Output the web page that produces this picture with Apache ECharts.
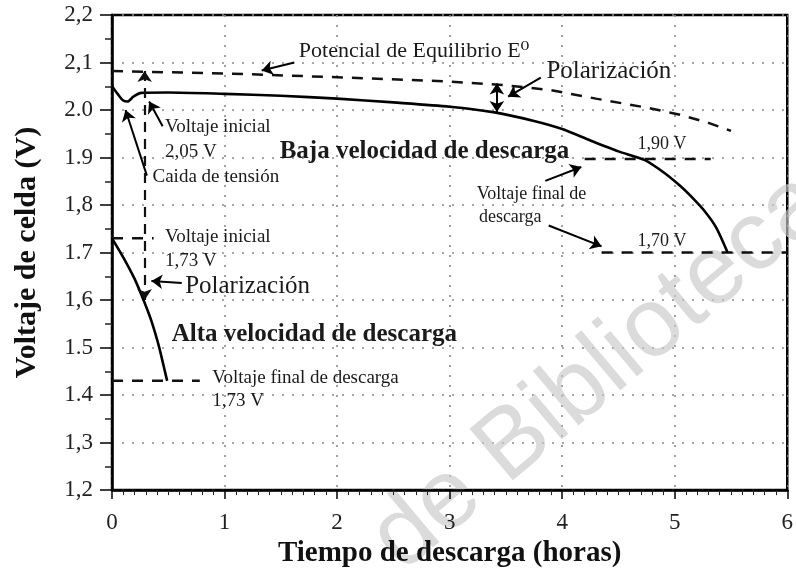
<!DOCTYPE html>
<html>
<head>
<meta charset="utf-8">
<script src="https://cdn.jsdelivr.net/npm/echarts@6/dist/echarts.min.js"></script>
<style>
  html, body { margin: 0; padding: 0; background: #fff; }
  #chart { width: 796px; height: 573px; }
</style>
</head>
<body>
<div id="chart"></div>
<script>
// tick labels as printed (mixed comma / dot in the original)
var yTickLabels = ['1,2', '1,3', '1.4', '1.5', '1,6', '1.7', '1,8', '1.9', '2.0', '2,1', '2,2'];
var xTickLabels = ['0', '1', '2', '3', '4', '5', '6'];

// equilibrium potential E0 (dashed)
var equilibrium = [[0, 2.082], [1, 2.077], [2, 2.069], [3, 2.06], [3.5, 2.052], [3.9, 2.042],
  [4.3, 2.024], [4.75, 2.005], [5.05, 1.99], [5.3, 1.973], [5.5, 1.956]];

// low discharge rate
var lowRate = [[0, 2.05], [0.05, 2.034], [0.1, 2.02], [0.14, 2.018], [0.19, 2.028], [0.26, 2.036],
  [0.5, 2.037], [1, 2.034], [1.5, 2.03], [2, 2.024], [2.5, 2.016], [3, 2.007], [3.4, 1.995],
  [3.75, 1.977], [4, 1.96], [4.25, 1.936], [4.5, 1.913], [4.73, 1.895], [4.9, 1.869],
  [5.05, 1.84], [5.15, 1.817], [5.27, 1.786], [5.37, 1.752], [5.47, 1.7]];

// high discharge rate
var highRate = [[0, 1.73], [0.1, 1.69], [0.2, 1.645], [0.28, 1.6], [0.35, 1.556],
  [0.42, 1.5], [0.46, 1.46], [0.49, 1.43]];

// dashed reference levels
var refInitialHigh = [[0, 1.73], [0.37, 1.73]];
var refFinalHigh = [[0, 1.43], [0.78, 1.43]];
var refFinal190 = [[4.2, 1.897], [5.32, 1.897]];
var refFinal170 = [[4.35, 1.7], [6, 1.7]];

// vertical dashed drop at the start
var dropLine = [[0.29, 2.082], [0.29, 1.6]];

// pointer arrows [from, to]
var pointers = [
  [[1.62, 2.1], [1.33, 2.083]],
  [[3.81, 2.068], [3.52, 2.028]],
  [[0.45, 1.966], [0.33, 2.018]],
  [[0.31, 1.862], [0.12, 2.0]],
  [[0.62, 1.636], [0.35, 1.64]],
  [[3.85, 1.851], [4.17, 1.88]],
  [[3.88, 1.757], [4.35, 1.713]]
];
// double arrow for polarization on the low rate curve
var polarArrow = [[3.42, 2.056], [3.42, 1.996]];

// annotations [x, y, text, size, bold]
var notes = [
  [1.66, 2.123, 'Potencial de Equilibrio E\u2070', 22, false],
  [3.86, 2.081, 'Polarización', 25, false],
  [0.47, 1.964, 'Voltaje inicial', 19, false],
  [0.47, 1.911, '2,05 V', 19, false],
  [0.36, 1.859, 'Caida de tensión', 19, false],
  [1.49, 1.913, 'Baja velocidad de descarga', 25, true],
  [4.67, 1.928, '1,90 V', 18, false],
  [3.24, 1.823, 'Voltaje final de', 18, false],
  [3.26, 1.775, 'descarga', 18, false],
  [4.67, 1.723, '1,70 V', 18, false],
  [0.47, 1.733, 'Voltaje inicial', 19, false],
  [0.47, 1.683, '1,73 V', 19, false],
  [0.65, 1.629, 'Polarización', 25, false],
  [0.53, 1.528, 'Alta velocidad de descarga', 25, true],
  [0.89, 1.436, 'Voltaje final de descarga', 19, false],
  [0.89, 1.388, '1,73 V', 19, false]
];

var serif = '"Liberation Serif", "DejaVu Serif", serif';

var chartDom = document.getElementById('chart');
var myChart = echarts.init(chartDom, null, { renderer: 'canvas' });

function dashedSeries(name, pts) {
  return {
    name: name,
    type: 'line',
    data: pts,
    showSymbol: false,
    silent: true,
    lineStyle: { color: '#111', width: 2.5, type: [11, 9] },
    z: 3
  };
}

var arrowLines = pointers.map(function (p) {
  return [{ coord: p[0], symbol: 'none' }, { coord: p[1], symbol: 'arrow' }];
});

var option = {
  animation: false,
  backgroundColor: '#fff',
  grid: {
    left: 112, right: 8, top: 15, bottom: 80,
    show: true, borderColor: '#000', borderWidth: 2.5
  },
  xAxis: {
    type: 'value',
    min: 0, max: 6, interval: 1,
    name: 'Tiempo de descarga (horas)',
    nameLocation: 'middle',
    nameGap: 44,
    nameTextStyle: { fontFamily: serif, fontSize: 29, fontWeight: 'bold', color: '#111' },
    axisLine: { lineStyle: { color: '#000', width: 2.5 } },
    axisTick: { length: 9, lineStyle: { color: '#000', width: 1.5 } },
    minorTick: { show: true, splitNumber: 10, length: 5, lineStyle: { color: '#222', width: 1 } },
    axisLabel: {
      margin: 21, fontFamily: serif, fontSize: 23, color: '#222',
      formatter: function (v) { return xTickLabels[Math.round(v)]; }
    },
    splitLine: { show: true, lineStyle: { color: '#8a8a8a', width: 1.6, type: [2, 8] } }
  },
  yAxis: {
    type: 'value',
    min: 1.2, max: 2.2, interval: 0.1,
    name: 'Voltaje de celda (V)',
    nameLocation: 'middle',
    nameGap: 70,
    nameTextStyle: { fontFamily: serif, fontSize: 30, fontWeight: 'bold', color: '#111' },
    axisLine: { show: true, lineStyle: { color: '#000', width: 2.5 } },
    axisTick: { show: true, length: 12, lineStyle: { color: '#000', width: 1.5 } },
    minorTick: { show: true, splitNumber: 2, length: 7, lineStyle: { color: '#222', width: 1.5 } },
    axisLabel: {
      margin: 19, fontFamily: serif, fontSize: 23, color: '#222',
      formatter: function (v) { return yTickLabels[Math.round(v * 10) - 12]; }
    },
    splitLine: { show: true, lineStyle: { color: '#8a8a8a', width: 1.6, type: [2, 8] } }
  },
  series: [
    dashedSeries('Potencial de Equilibrio', equilibrium),
    {
      name: 'Baja velocidad de descarga',
      type: 'line',
      data: lowRate,
      showSymbol: false,
      smooth: 0.25,
      lineStyle: { color: '#000', width: 2.6 },
      z: 4,
      markLine: {
        silent: true,
        symbolSize: 11,
        label: { show: false },
        lineStyle: { color: '#000', width: 2, type: 'solid' },
        data: arrowLines.concat([
          [{ coord: polarArrow[0], symbol: 'arrow' }, { coord: polarArrow[1], symbol: 'arrow' }]
        ])
      }
    },
    {
      name: 'Alta velocidad de descarga',
      type: 'line',
      data: highRate,
      showSymbol: false,
      smooth: 0.2,
      lineStyle: { color: '#000', width: 2.6 },
      z: 4,
      markLine: {
        silent: true,
        symbolSize: 11,
        label: { show: false },
        lineStyle: { color: '#111', width: 2.2, type: [10, 7] },
        data: [[{ coord: dropLine[0], symbol: 'arrow' }, { coord: dropLine[1], symbol: 'arrow' }]]
      }
    },
    dashedSeries('Voltaje inicial 1,73', refInitialHigh),
    dashedSeries('Voltaje final alta', refFinalHigh),
    dashedSeries('1,90 V', refFinal190),
    dashedSeries('1,70 V', refFinal170)
  ]
};

myChart.setOption(option);

// text annotations placed at data coordinates
var graphics = notes.map(function (n) {
  var p = myChart.convertToPixel({ gridIndex: 0 }, [n[0], n[1]]);
  return {
    type: 'text',
    x: p[0], y: p[1],
    z: 10,
    style: {
      text: n[2],
      fill: '#1a1a1a',
      font: (n[4] ? 'bold ' : '') + n[3] + 'px ' + serif,
      textAlign: 'left',
      textVerticalAlign: 'middle'
    }
  };
});

// faint watermark across the plot
graphics.push({
  type: 'text',
  x: 600, y: 372,
  rotation: 40 * Math.PI / 180,
  z: 0,
  silent: true,
  style: {
    text: 'de Biblioteca',
    fill: 'rgba(200,200,200,0.65)',
    font: '98px "Liberation Sans", Arial, sans-serif',
    textAlign: 'center',
    textVerticalAlign: 'middle'
  }
});

myChart.setOption({ graphic: graphics });
</script>
</body>
</html>
